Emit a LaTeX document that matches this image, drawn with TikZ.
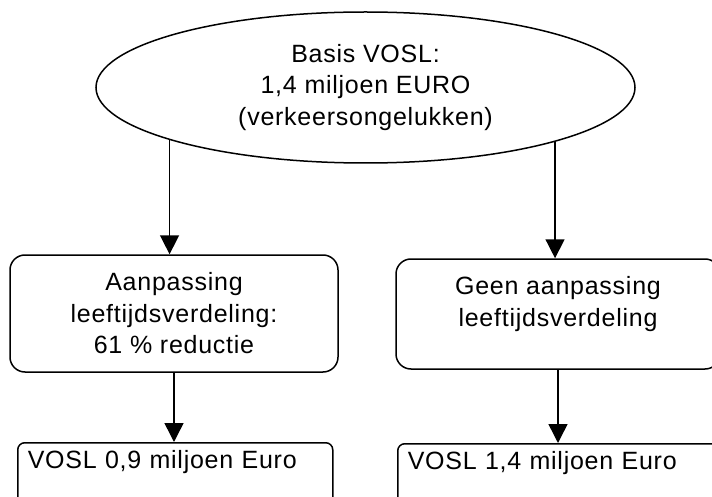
\documentclass[tikz,border=0pt]{standalone}
\usepackage{fontspec}
\setmainfont{Liberation Sans}[LetterSpace=3]
\usetikzlibrary{shapes.geometric,arrows.meta}
\begin{document}
\begin{tikzpicture}[x=1pt,y=-1pt,
  every node/.style={font=\fontsize{25}{31.5}\selectfont, text=black},
  line/.style={line width=1.5pt, draw=black},
  arr/.style={line width=1.5pt, -{Triangle[width=19pt,length=19pt]}},
  topbox/.style={line, rectangle, rounded corners=15pt, inner sep=0pt},
  outbox/.style={line, rectangle, rounded corners=7pt, anchor=north west, inner xsep=10pt, inner ysep=0pt, align=left, text height=26pt, text depth=44pt}
]
\useasboundingbox (0,0) rectangle (712,497);
\clip (0,0) rectangle (712,497);

\node[line, ellipse, minimum width=539pt, minimum height=151pt, inner sep=0pt, align=center] (ell) at (365.5,87.5)
  {Basis VOSL:\\1,4 miljoen EURO\\(verkeersongelukken)};

\node[topbox, minimum width=328pt, minimum height=117pt, align=center] (box1) at (174,313.5)
  {Aanpassing\\leeftijdsverdeling:\\61 \% reductie};

\node[topbox, minimum width=324pt, minimum height=110pt] (box2) at (558,314) {};
\node[anchor=north, inner sep=0pt, align=center] (box2txt) at (558,276.2)
  {Geen aanpassing\\leeftijdsverdeling};

\node[outbox, text width=295pt] (out1) at (17,442) {VOSL 0,9 miljoen Euro};
\node[outbox, text width=303pt] (out2) at (397,443) {VOSL 1,4 miljoen Euro};

\draw[arr] (ell.195.5) -- (ell.195.5 |- box1.north);
\draw[arr] (ell.344.6) -- (ell.344.6 |- box2.north);
\draw[arr] (box1.south) -- (box1.south |- out1.north);
\draw[arr] (box2.south) -- (box2.south |- out2.north);
\end{tikzpicture}
\end{document}
